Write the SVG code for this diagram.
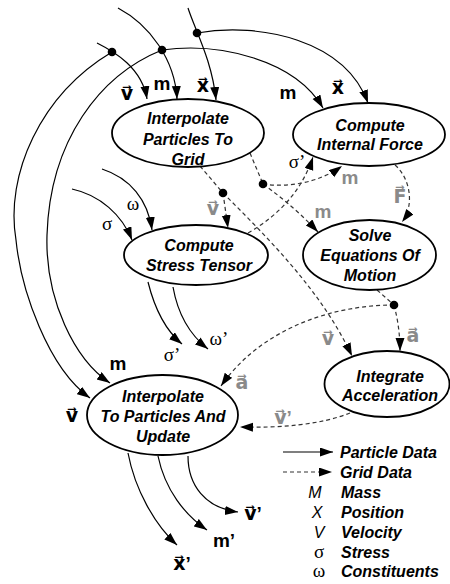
<svg xmlns="http://www.w3.org/2000/svg" width="450" height="584" viewBox="0 0 450 584">
<style>
.node{fill:#fff;stroke:#000;stroke-width:1.8}
.nt{font-family:"Liberation Sans",Arial,sans-serif;font-size:16px;font-weight:bold;font-style:italic;text-anchor:middle;fill:#000}
.sl{fill:none;stroke:#000;stroke-width:1.2;marker-end:url(#ah)}
.sn{fill:none;stroke:#000;stroke-width:1.2}
.dl{fill:none;stroke:#333;stroke-width:1.2;stroke-dasharray:4 3;marker-end:url(#ah)}
.dn{fill:none;stroke:#333;stroke-width:1.2;stroke-dasharray:4 3}
.dot{fill:#000}
.lb{font-family:"Liberation Sans","DejaVu Sans",Arial,sans-serif;font-size:19px;font-weight:bold;text-anchor:middle;fill:#000}
.gl{fill:#8a8a8a}
.gk{font-family:"Liberation Serif","DejaVu Serif",serif;font-size:19px;text-anchor:middle;fill:#000}
.lg{font-family:"Liberation Sans",Arial,sans-serif;font-size:16px;font-weight:bold;font-style:italic;fill:#000}
.lgc{font-family:"Liberation Sans",Arial,sans-serif;font-size:16px;font-style:italic;text-anchor:middle;fill:#000}
</style>
<defs>
<marker id="ah" markerUnits="userSpaceOnUse" markerWidth="14" markerHeight="10" refX="13" refY="4.5" orient="auto"><path d="M0,0 L13,4.5 L0,9 z" fill="#000"/></marker>
</defs>
<g id="connectors">
<path class="sl" d="M97,43 C115,52 142,68 147,99"/>
<path class="sl" d="M118,8 C150,25 175,60 177,99"/>
<path class="sl" d="M188,8 C195,30 212,60 216,100"/>
<path class="sl" d="M197,33 C260,22 345,40 368,103"/>
<path class="sl" d="M162,50 C220,42 295,60 323,108"/>
<path class="sl" d="M112,52 C40,95 5,175 16,240 C21,290 48,368 90,398"/>
<path class="sl" d="M162,50 C100,75 50,140 47,235 C45,300 75,360 110,383"/>
<path class="sl" d="M72,189 C100,195 122,215 132,240"/>
<path class="sl" d="M102,169 C130,178 148,200 152,230"/>
<path class="sl" d="M148,282 C155,310 165,330 182,344"/>
<path class="sl" d="M173,287 C178,315 190,335 208,349"/>
<path class="sl" d="M128,453 C135,490 155,525 177,545"/>
<path class="sl" d="M158,456 C165,490 185,515 207,530"/>
<path class="sl" d="M188,456 C188,485 205,508 238,512"/>
<path class="dn" d="M200,166 L223,193"/>
<path class="dl" d="M223,193 L228,228"/>
<path class="dl" d="M223,193 C270,240 322,292 352,356"/>
<path class="dn" d="M250,153 L263,184"/>
<path class="dl" d="M263,184 C290,188 320,182 342,166"/>
<path class="dl" d="M263,184 C285,200 302,215 318,232"/>
<path class="dl" d="M248,233 Q297,205 313,157"/>
<path class="dl" d="M395,165 C410,178 415,205 402,222"/>
<path class="dn" d="M377,290 L394,305"/>
<path class="dl" d="M394,305 C398,320 400,335 400,351"/>
<path class="dl" d="M394,305 C330,305 260,330 221,386"/>
<path class="dl" d="M350,413 C320,425 280,428 240,427"/>
<path class="sl" d="M283,452 L333,452"/>
<path class="dl" d="M283,472 L332,472"/>
</g>
<g id="dots">
<circle class="dot" cx="112" cy="52" r="4.3"/>
<circle class="dot" cx="162" cy="50" r="4.3"/>
<circle class="dot" cx="197" cy="33" r="4.3"/>
<circle class="dot" cx="223" cy="193" r="4.3"/>
<circle class="dot" cx="263" cy="184" r="4.3"/>
<circle class="dot" cx="394" cy="305" r="4.3"/>
</g>
<g id="n1"><ellipse class="node" cx="188" cy="133" rx="76" ry="34"/>
<text class="nt" x="188" y="123.5">Interpolate</text><text class="nt" x="188" y="144.5">Particles To</text><text class="nt" x="188" y="165">Grid</text></g>
<g id="n2"><ellipse class="node" cx="369" cy="134.5" rx="76" ry="31.5"/>
<text class="nt" x="370" y="130.5">Compute</text><text class="nt" x="370" y="149.5">Internal Force</text></g>
<g id="n3"><ellipse class="node" cx="196" cy="255" rx="72" ry="30"/>
<text class="nt" x="199" y="250.5">Compute</text><text class="nt" x="199" y="270.5">Stress Tensor</text></g>
<g id="n4"><ellipse class="node" cx="369.5" cy="255" rx="66.5" ry="35"/>
<text class="nt" x="370" y="240.5">Solve</text><text class="nt" x="370" y="261">Equations Of</text><text class="nt" x="370" y="280.5">Motion</text></g>
<g id="n5"><ellipse class="node" cx="387" cy="384" rx="62.5" ry="33"/>
<text class="nt" x="390" y="381.5">Integrate</text><text class="nt" x="390" y="400.5">Acceleration</text></g>
<g id="n6"><ellipse class="node" cx="162.5" cy="415" rx="75.5" ry="40"/>
<text class="nt" x="163" y="401.5">Interpolate</text><text class="nt" x="163" y="421.5">To Particles And</text><text class="nt" x="163" y="442">Update</text></g>
<g id="labels">
<text class="lb" x="127" y="100">v⃗</text>
<text class="lb" x="162" y="90">m</text>
<text class="lb" x="203" y="92">x⃗</text>
<text class="lb" x="288" y="99">m</text>
<text class="lb" x="338" y="94">x⃗</text>
<text class="gk" x="297" y="168">σ’</text>
<text class="lb gl" x="350" y="184">m</text>
<text class="lb gl" x="400" y="203">F⃗</text>
<text class="lb gl" x="213" y="215">v⃗</text>
<text class="gk" x="133" y="210">ω</text>
<text class="gk" x="107" y="230">σ</text>
<text class="lb gl" x="323" y="218">m</text>
<text class="lb gl" x="328" y="345">v⃗</text>
<text class="lb gl" x="413" y="342">a⃗</text>
<text class="gk" x="172" y="361">σ’</text>
<text class="gk" x="219" y="345">ω’</text>
<text class="lb" x="118" y="370">m</text>
<text class="lb" x="72" y="422">v⃗</text>
<text class="lb gl" x="242" y="389">a⃗</text>
<text class="lb gl" x="283" y="424">v⃗’</text>
<text class="lb" x="182" y="570">x⃗’</text>
<text class="lb" x="224" y="547">m’</text>
<text class="lb" x="253" y="520">v⃗’</text>
</g>
<g id="legend">
<text class="lg" x="340" y="457.5">Particle Data</text>
<text class="lg" x="340" y="477.5">Grid Data</text>
<text class="lgc" x="315" y="497.5">M</text><text class="lg" x="341" y="497.5">Mass</text>
<text class="lgc" x="317" y="517.5">X</text><text class="lg" x="341" y="517.5">Position</text>
<text class="lgc" x="319" y="537.5">V</text><text class="lg" x="341" y="537.5">Velocity</text>
<text class="gk" x="319" y="557.5">σ</text><text class="lg" x="341" y="557.5">Stress</text>
<text class="gk" x="319" y="576.5">ω</text><text class="lg" x="341" y="576.5">Constituents</text>
</g>
</svg>
